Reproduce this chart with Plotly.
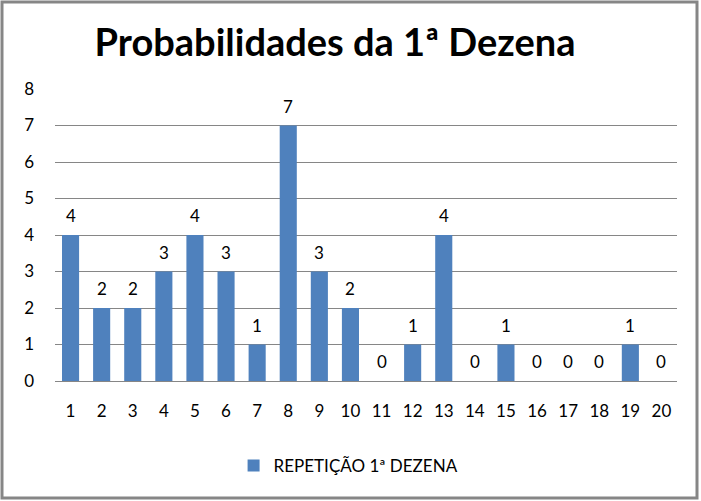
import plotly.graph_objects as go

categories = [str(i) for i in range(1, 21)]
values = [4, 2, 2, 3, 4, 3, 1, 7, 3, 2, 0, 1, 4, 0, 1, 0, 0, 0, 1, 0]
series_name = "REPETIÇÃO 1ª DEZENA"
title_text = "Probabilidades da 1ª Dezena"

FONT = "Lato"
fig = go.Figure()
fig.add_trace(go.Bar(
    x=categories, y=values, name=series_name,
    marker=dict(color="#4F81BD", line=dict(width=0)),
))
for i, v in enumerate(values):
    fig.add_annotation(x=i, y=v, text=str(v), showarrow=False, yanchor="bottom",
                       yshift=7, font=dict(family=FONT, size=17, color="#000000"))
fig.update_layout(
    width=701, height=501,
    margin=dict(l=55, r=24, t=89, b=120),
    paper_bgcolor="white", plot_bgcolor="white",
    title=dict(text="<b>" + title_text + "</b>", x=335 / 701, xanchor="center", xref="container",
               y=1 - 43 / 501, yanchor="middle", yref="container",
               font=dict(family=FONT, size=38, color="#000000")),
    bargap=0.45,
    showlegend=True,
    legend=dict(orientation="h", x=0.472, xanchor="center", y=-0.291, yanchor="middle",
                font=dict(family=FONT, size=17, color="#000000")),
    xaxis=dict(type="category", showgrid=False, showline=False, ticks="",
               range=[-0.5, len(categories) - 0.5],
               tickfont=dict(family=FONT, size=17, color="#000000"),
               ticklabelstandoff=18),
    yaxis=dict(range=[0, 8], dtick=1, showgrid=True, gridcolor="#868686", gridwidth=1,
               zeroline=True, zerolinecolor="#868686", zerolinewidth=1,
               showline=False, ticks="",
               tickfont=dict(family=FONT, size=17, color="#000000"),
               ticklabelstandoff=20),
)
fig.add_shape(type="rect", xref="paper", yref="paper",
              x0=-53 / 622, x1=1 + 20 / 622, y0=-(501 - 381 - 3) / 292, y1=1 + 87 / 292,
              line=dict(color="#868686", width=3), fillcolor="rgba(0,0,0,0)", layer="above")
fig.write_html("out.html")
